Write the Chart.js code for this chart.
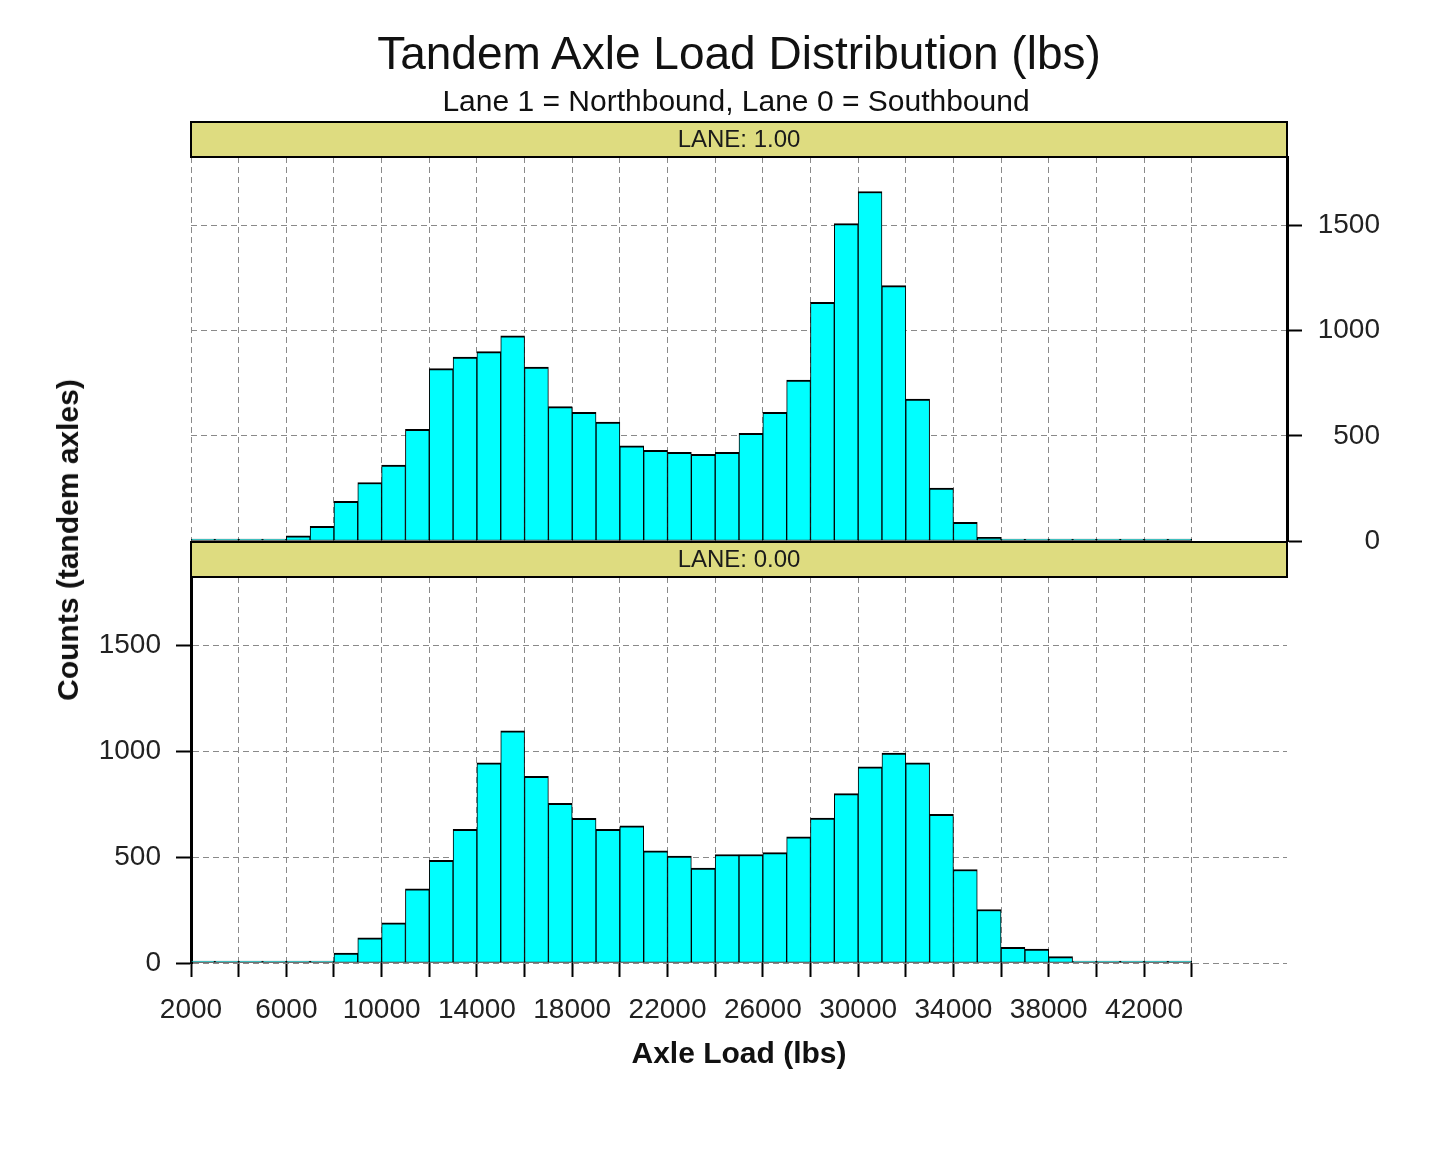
<!DOCTYPE html>
<html>
<head>
<meta charset="utf-8">
<script src="https://cdn.jsdelivr.net/npm/chart.js@4.4.1/dist/chart.umd.min.js"></script>
<style>
  html, body { margin: 0; padding: 0; background: #fff; }
  #wrap { position: relative; width: 1454px; height: 1160px; overflow: hidden; font-family: Arial, "Liberation Sans", sans-serif; color: #111; }
  canvas { position: absolute; left: 0; top: 0; }
  .txt { position: absolute; white-space: nowrap; line-height: 1; }
  #title { left: 739px; top: 53px; transform: translate(-50%, -50%); font-size: 46px; }
  #subtitle { left: 736px; top: 101px; transform: translate(-50%, -50%); font-size: 30px; }
  #ytitle { left: 68px; top: 540px; transform: translate(-50%, -50%) rotate(-90deg); font-size: 30px; font-weight: bold; }
</style>
</head>
<body>
<div id="wrap">
  <canvas id="lane1" width="1454" height="1160"></canvas>
  <canvas id="lane0" width="1454" height="1160"></canvas>
  <div class="txt" id="title">Tandem Axle Load Distribution (lbs)</div>
  <div class="txt" id="subtitle">Lane 1 = Northbound, Lane 0 = Southbound</div>
  <div class="txt" id="ytitle">Counts (tandem axles)</div>
</div>
<script>
// bin centres (lbs), 1000 lb bins
const loadBins = [2500, 3500, 4500, 5500, 6500, 7500, 8500, 9500, 10500, 11500,
  12500, 13500, 14500, 15500, 16500, 17500, 18500, 19500, 20500, 21500,
  22500, 23500, 24500, 25500, 26500, 27500, 28500, 29500, 30500, 31500,
  32500, 33500, 34500, 35500, 36500, 37500, 38500, 39500, 40500, 41500,
  42500, 43500];

// LANE 1 (northbound)
const lane1Counts = [0, 0, 0, 0, 24, 70, 188, 278, 361, 531,
  819, 874, 900, 975, 827, 639, 612, 565, 452, 431,
  422, 412, 422, 512, 611, 765, 1134, 1508, 1661, 1214,
  675, 251, 89, 17, 6, 0, 0, 0, 0, 0,
  0, 0];

// LANE 0 (southbound)
const lane0Counts = [0, 0, 0, 0, 0, 8, 47, 119, 190, 351,
  486, 632, 946, 1098, 883, 755, 684, 632, 649, 530,
  505, 449, 513, 513, 522, 596, 685, 801, 927, 992,
  946, 703, 442, 253, 74, 66, 30, 8, 0, 0,
  0, 0];

const xTicks = [2000, 4000, 6000, 8000, 10000, 12000, 14000, 16000, 18000, 20000, 22000,
  24000, 26000, 28000, 30000, 32000, 34000, 36000, 38000, 40000, 42000, 44000];
const xTickLabels = [2000, 6000, 10000, 14000, 18000, 22000, 26000, 30000, 34000, 38000, 42000];
const yTicks = [0, 500, 1000, 1500];

const xMin = 2000, xMax = 48000, yMax = 1825;
const gridColor = '#8a8a8a';
const dash = [6, 4];

const stripPlugin = {
  id: 'strip',
  afterDraw(chart, args, opts) {
    const { ctx, chartArea: a } = chart;
    const h = 35;
    ctx.save();
    ctx.fillStyle = '#dedc80';
    ctx.fillRect(a.left, a.top - h, a.right - a.left, h);
    ctx.strokeStyle = '#000';
    ctx.lineWidth = 2;
    ctx.strokeRect(a.left, a.top - h, a.right - a.left, h);
    ctx.fillStyle = '#1a1a1a';
    ctx.font = '24px Arial, "Liberation Sans", sans-serif';
    ctx.textAlign = 'center';
    ctx.textBaseline = 'middle';
    ctx.fillText(opts.text, (a.left + a.right) / 2, a.top - h / 2 + 1);
    ctx.restore();
  }
};

function barDataset(counts) {
  return {
    data: loadBins.map((x, i) => ({ x: x, y: counts[i] })),
    backgroundColor: '#00ffff',
    borderColor: '#000',
    borderWidth: { top: 2, left: 1, right: 1, bottom: 1 },
    borderSkipped: false,
    barPercentage: 1,
    categoryPercentage: 1,
    minBarLength: 2
  };
}

const tickFont = { family: 'Arial, "Liberation Sans", sans-serif', size: 28 };
const plain = v => String(v);

// top panel: LANE 1, axis on the right
new Chart(document.getElementById('lane1'), {
  type: 'bar',
  data: { datasets: [barDataset(lane1Counts)] },
  options: {
    responsive: false,
    animation: false,
    events: [],
    layout: { padding: { left: 191, top: 157, right: 1454 - 1287 - 93, bottom: 1160 - 541 } },
    plugins: { legend: { display: false }, tooltip: { enabled: false }, strip: { text: 'LANE: 1.00' } },
    scales: {
      x: {
        type: 'linear', min: xMin, max: xMax, offset: false,
        afterBuildTicks: s => { s.ticks = xTicks.map(v => ({ value: v })); },
        afterFit: s => { s.height = 0; },
        ticks: { display: false },
        grid: { color: gridColor, drawTicks: false, offset: false },
        border: { display: false, dash: dash }
      },
      y: {
        position: 'right', min: 0, max: yMax,
        afterBuildTicks: s => { s.ticks = yTicks.map(v => ({ value: v })); },
        afterFit: s => { s.width = 93; },
        ticks: { font: tickFont, color: '#222', padding: 16, crossAlign: 'far', callback: plain },
        grid: { color: gridColor, tickColor: '#000', tickLength: 15, tickWidth: 2 },
        border: { display: true, color: '#000', width: 3, dash: dash }
      }
    }
  },
  plugins: [stripPlugin]
});

// bottom panel: LANE 0, axis on the left
new Chart(document.getElementById('lane0'), {
  type: 'bar',
  data: { datasets: [barDataset(lane0Counts)] },
  options: {
    responsive: false,
    animation: false,
    events: [],
    layout: { padding: { left: 71, top: 577, right: 1454 - 1287, bottom: 87 } },
    plugins: { legend: { display: false }, tooltip: { enabled: false }, strip: { text: 'LANE: 0.00' } },
    scales: {
      x: {
        type: 'linear', min: xMin, max: xMax, offset: false,
        afterBuildTicks: s => { s.ticks = xTicks.map(v => ({ value: v })); },
        afterFit: s => { s.height = 110; },
        ticks: {
          font: tickFont, color: '#222', padding: 16, autoSkip: false, maxRotation: 0,
          callback: v => xTickLabels.includes(v) ? String(v) : ''
        },
        grid: { color: gridColor, offset: false, tickColor: '#000', tickLength: 14, tickWidth: 2 },
        border: { display: false, dash: dash },
        title: {
          display: true, text: 'Axle Load (lbs)', color: '#111',
          font: { family: 'Arial, "Liberation Sans", sans-serif', size: 30, weight: 'bold' },
          padding: { top: 0, bottom: 0 }
        }
      },
      y: {
        position: 'left', min: 0, max: yMax,
        afterBuildTicks: s => { s.ticks = yTicks.map(v => ({ value: v })); },
        afterFit: s => { s.width = 120; },
        ticks: { font: tickFont, color: '#222', padding: 15, callback: plain },
        grid: { color: gridColor, tickColor: '#000', tickLength: 15, tickWidth: 2 },
        border: { display: true, color: '#000', width: 3, dash: dash }
      }
    }
  },
  plugins: [stripPlugin]
});
</script>
</body>
</html>
